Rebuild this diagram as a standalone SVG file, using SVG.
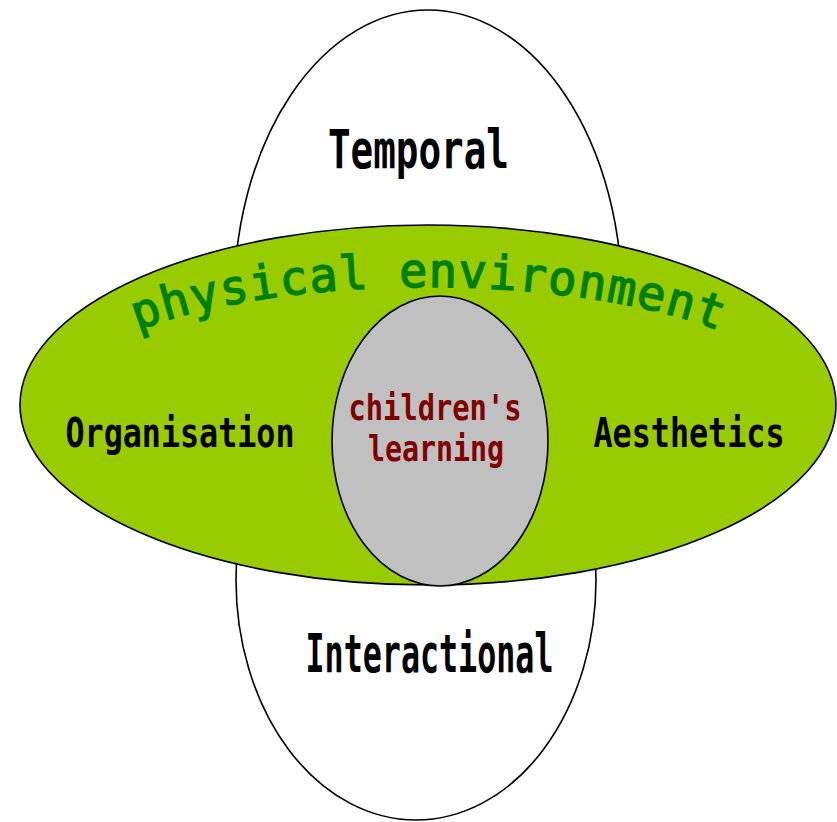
<svg xmlns="http://www.w3.org/2000/svg" width="837" height="822" viewBox="0 0 837 822">
<style>
.outline{stroke:#000;stroke-width:1.6}
.lbl{font-family:"DejaVu Sans Mono","Liberation Mono",monospace;font-weight:bold;text-anchor:middle;fill:#000}
.core{font-family:"DejaVu Sans Mono","Liberation Mono",monospace;font-weight:bold;text-anchor:middle;fill:#800000;font-size:36px}
.arc{font-family:"DejaVu Sans Mono","Liberation Mono",monospace;fill:#008000;stroke:#008000;stroke-width:1.4;font-size:47px}
</style>
<defs>
<path id="arcPath" d="M 53 405 A 375 118 0 0 1 803 405"/>
</defs>
<rect width="837" height="822" fill="#fff"/>
<g id="temporal">
<ellipse class="outline" cx="428" cy="300" rx="194" ry="290" fill="#fff"/>
</g>
<g id="interactional">
<ellipse class="outline" cx="416" cy="580" rx="180" ry="240" fill="#fff"/>
</g>
<g id="physical-environment">
<ellipse class="outline" cx="428" cy="405" rx="408" ry="180" fill="#99cc00"/>
<text class="arc"><textPath href="#arcPath" startOffset="50%" text-anchor="middle" textLength="590" lengthAdjust="spacing">physical environment</textPath></text>
</g>
<g id="childrens-learning">
<ellipse class="outline" cx="440" cy="441" rx="108" ry="145" fill="#c0c0c0"/>
<text class="core" x="435" y="420" textLength="173" lengthAdjust="spacingAndGlyphs">children's</text>
<text class="core" x="436" y="461" textLength="136" lengthAdjust="spacingAndGlyphs">learning</text>
</g>
<g id="labels">
<text class="lbl" x="418.5" y="168" font-size="53" textLength="181" lengthAdjust="spacingAndGlyphs">Temporal</text>
<text class="lbl" x="429.5" y="672" font-size="53" textLength="248" lengthAdjust="spacingAndGlyphs">Interactional</text>
<text class="lbl" x="180" y="447" font-size="41" textLength="229" lengthAdjust="spacingAndGlyphs">Organisation</text>
<text class="lbl" x="689" y="447" font-size="41" textLength="191" lengthAdjust="spacingAndGlyphs">Aesthetics</text>
</g>
<g id="connectors"/>
</svg>
